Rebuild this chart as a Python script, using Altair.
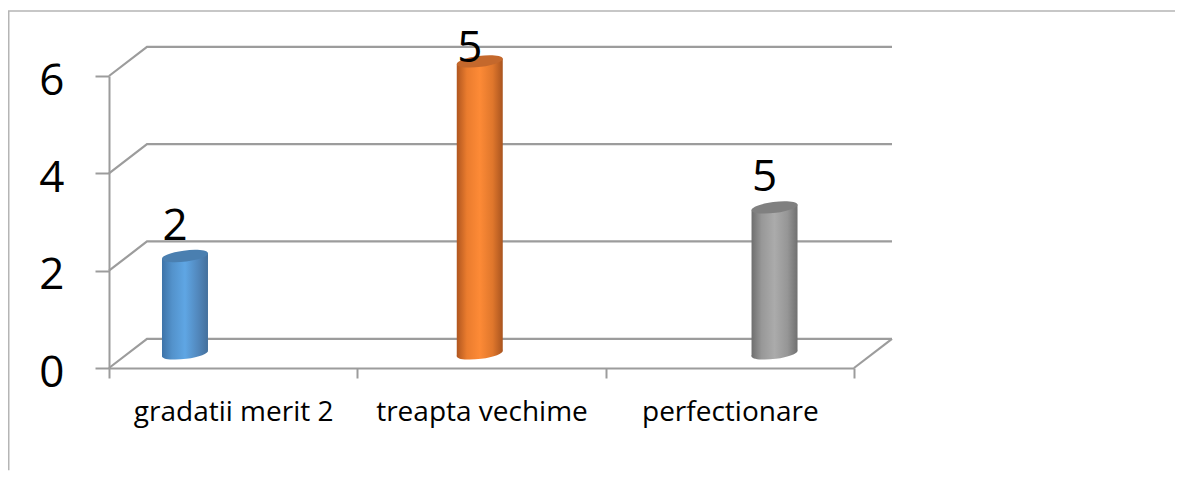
import altair as alt
import pandas as pd

categories = ["gradatii merit 2", "treapta vechime", "perfectionare"]
values = [2, 6, 3]
value_labels = ["2", "5", "5"]
y_ticks = [0, 2, 4, 6]

# geometry of the pseudo-3D box, in data units
DX, DY = 0.153, 0.6
PX_X, PX_Y = 248.33, 48.67
BAR_START, BAR_STEP, BAR_HALF = 0.302, 1.187, 0.0926
TILT = 0.06
FONT = "Open Sans"
GREY = "#9c9c9c"

bar_styles = [
    {"edge_l": "#3d73a8", "near_l": "#5392cb", "mid": "#5fa6e4", "near_r": "#5288bd", "edge_r": "#44709c", "cap": "#4a7fb0"},
    {"edge_l": "#b0561f", "near_l": "#ea7c2e", "mid": "#fd8a36", "near_r": "#e0772c", "edge_r": "#a9541f", "cap": "#c4682c"},
    {"edge_l": "#6e6e6e", "near_l": "#989898", "mid": "#ababab", "near_r": "#969696", "edge_r": "#707070", "cap": "#808080"},
]

W, H = 745, 292
xq = alt.Scale(domain=[0, 3], nice=False, zero=False)
yq = alt.Scale(domain=[0, 6], nice=False, zero=False)
y_axis = alt.Axis(values=y_ticks, labelFont=FONT, labelFontSize=44, labelColor="#000000",
                  labelPadding=31, labelOffset=5, tickSize=14, tickColor=GREY, tickWidth=2,
                  domainColor=GREY, domainWidth=2, grid=False, title=None)
X = lambda f: alt.X(f, type="quantitative", scale=xq, axis=None)
Y = lambda f: alt.Y(f, type="quantitative", scale=yq, axis=y_axis)

# axes layer
axis_df = pd.DataFrame({"cat": categories, "v": values})
axes = alt.Chart(axis_df).mark_bar(opacity=0).encode(
    x=alt.X("cat:N", sort=categories, title=None,
            scale=alt.Scale(paddingInner=0, paddingOuter=0),
            axis=alt.Axis(labelAngle=0, labelFont=FONT, labelFontSize=28, labelColor="#000000",
                          labelPadding=20, labelLimit=0, tickBand="extent", tickSize=10,
                          tickColor=GREY, tickWidth=2, domainColor=GREY, domainWidth=2, grid=False)),
    y=Y("v"),
)

# outer frame
frame_df = pd.DataFrame({"x": [-0.4037, -0.4037, 4.3], "y": [-2.1, 7.335, 7.335], "o": [0, 1, 2]})
frame = alt.Chart(frame_df).mark_line(color="#b5b5b5", strokeWidth=1.5).encode(
    x=X("x"), y=Y("y"), order="o:Q"
)

# back-wall gridlines with their diagonals, and floor's right edge
rows = []
for v in y_ticks:
    rows += [
        {"level": v, "s": 0, "x": 0, "y": v},
        {"level": v, "s": 1, "x": DX, "y": v + DY},
        {"level": v, "s": 2, "x": 3 + DX, "y": v + DY},
    ]
rows += [{"level": -1, "s": 0, "x": 3, "y": 0}, {"level": -1, "s": 1, "x": 3 + DX, "y": DY}]
grid = alt.Chart(pd.DataFrame(rows)).mark_line(color=GREY, strokeWidth=2.2).encode(
    x=X("x"), y=Y("y"), detail="level:N", order="s:Q"
)

# cylinders
ELLIPSE = "M -1 0.13 A 1 0.24 -7 1 1 1 -0.13 A 1 0.24 -7 1 1 -1 0.13 Z"
SIZE = (2 * BAR_HALF * PX_X) ** 2

layers = [axes, frame, grid]
for i, (val, st) in enumerate(zip(values, bar_styles)):
    cx = BAR_START + i * BAR_STEP + 0.004
    base, top = DY / 2, val + DY / 2
    grad = alt.Gradient(gradient="linear", x1=0, x2=1, y1=0, y2=0, stops=[
        alt.GradientStop(color=st["edge_l"], offset=0),
        alt.GradientStop(color=st["near_l"], offset=0.22),
        alt.GradientStop(color=st["mid"], offset=0.5),
        alt.GradientStop(color=st["near_r"], offset=0.78),
        alt.GradientStop(color=st["edge_r"], offset=1),
    ])
    bottom_df = pd.DataFrame({"x": [cx], "y": [base]})
    top_df = pd.DataFrame({"x": [cx], "y": [top]})
    body_df = pd.DataFrame({
        "x": [cx - BAR_HALF, cx + BAR_HALF],
        "y": [base - TILT, base + TILT],
        "y2": [top - TILT, top + TILT],
    })
    layers.append(alt.Chart(bottom_df).mark_point(shape=ELLIPSE, size=SIZE, filled=True, fill=grad,
                                                  opacity=1, strokeWidth=0).encode(x=X("x"), y=Y("y")))
    layers.append(alt.Chart(body_df).mark_area(fill=grad, line=False).encode(
        x=X("x"), y=Y("y"), y2=alt.Y2("y2")))
    layers.append(alt.Chart(top_df).mark_point(shape=ELLIPSE, size=SIZE, filled=True, fill=st["cap"],
                                               opacity=1, strokeWidth=0).encode(x=X("x"), y=Y("y")))

# value labels (kept inside the top of the box)
lab_df = pd.DataFrame({
    "x": [BAR_START + i * BAR_STEP for i in range(len(values))],
    "y": [min(v + DY / 2 + 0.36, 6 + DY / 2) for v in values],
    "t": value_labels,
})
labels = alt.Chart(lab_df).mark_text(font=FONT, fontSize=44, color="#000000", dx=-9, dy=1,
                                     baseline="alphabetic", align="center").encode(
    x=X("x"), y=Y("y"), text="t:N")
layers.append(labels)

chart = alt.layer(*layers).resolve_scale(x="independent").properties(
    width=W, height=H,
    padding={"left": 101, "top": 68, "right": 321, "bottom": 104},
    autosize=alt.AutoSizeParams(type="none"),
).configure(background="#ffffff", view=alt.ViewConfig(stroke=None))

chart.save("out.html", embed_options={"renderer": "svg", "actions": False})
